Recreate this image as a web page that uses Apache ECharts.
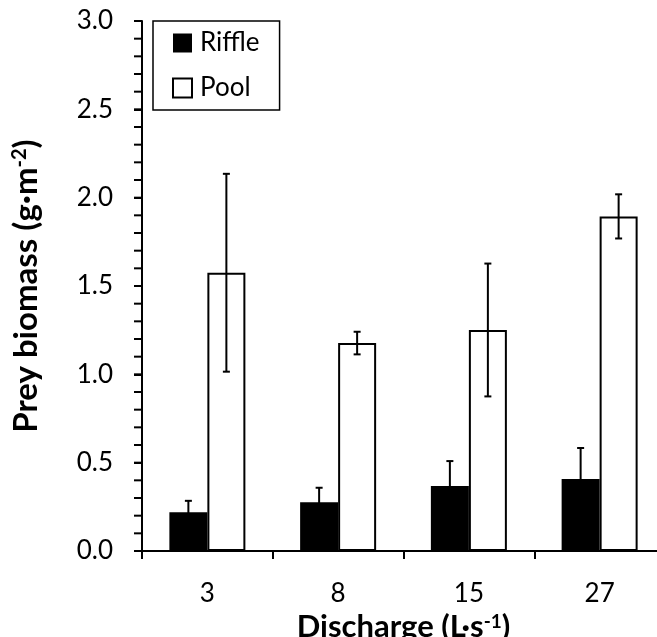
<!DOCTYPE html>
<html>
<head>
<meta charset="utf-8">
<script src="https://cdn.jsdelivr.net/npm/echarts@6/dist/echarts.min.js"></script>
<style>
  html, body { margin: 0; padding: 0; background: #fff; }
  #chart { width: 657px; height: 637px; }
</style>
</head>
<body>
<div id="chart"></div>
<script>
// discharge classes (L/s)
var discharge = ['3', '8', '15', '27'];

// prey biomass, g/m2
var riffleMean = [0.22, 0.276, 0.368, 0.408];
var riffleErr = [0.064, 0.082, 0.141, 0.175];
var poolMean = [1.575, 1.177, 1.251, 1.894];
var poolErr = [0.56, 0.064, 0.376, 0.125];

// small ticks on the y axis
var yTickValues = [0, 0.1, 0.2, 0.3, 0.4, 0.5, 0.6, 0.7, 0.8, 0.9,
    1.0, 1.1, 1.2, 1.3, 1.4, 1.5, 1.6, 1.7, 1.8, 1.9,
    2.0, 2.1, 2.2, 2.3, 2.4, 2.5, 2.6, 2.7, 2.8, 2.9, 3.0];

var font = 'Lato';

function errData(mean, err) {
    var out = [];
    for (var i = 0; i < mean.length; i++) {
        out.push([i, mean[i], err[i]]);
    }
    return out;
}

// draws a whisker shifted sideways onto its bar
function errRenderer(shift) {
    return function (params, api) {
        var i = api.value(0);
        var m = api.value(1);
        var e = api.value(2);
        var hi = api.coord([i, m + e]);
        var lo = api.coord([i, m - e]);
        var x = hi[0] + shift;
        var cap = 3.5;
        var st = { stroke: '#000', lineWidth: 2 };
        return {
            type: 'group',
            children: [
                { type: 'line', shape: { x1: x, y1: hi[1], x2: x, y2: lo[1] }, style: st },
                { type: 'line', shape: { x1: x - cap, y1: hi[1], x2: x + cap, y2: hi[1] }, style: st },
                { type: 'line', shape: { x1: x - cap, y1: lo[1], x2: x + cap, y2: lo[1] }, style: st }
            ]
        };
    };
}

var chart = echarts.init(document.getElementById('chart'));

var option = {
    backgroundColor: '#fff',
    animation: false,
    grid: {
        left: 142,
        top: 21,
        right: -8,
        bottom: 86,
        containLabel: false,
        outerBoundsMode: 'none'
    },
    legend: {
        orient: 'vertical',
        left: 153,
        top: 21,
        padding: [9, 20, 9, 19],
        itemGap: 19,
        itemWidth: 19,
        itemHeight: 19,
        borderColor: '#000',
        borderWidth: 1.5,
        textStyle: { fontFamily: font, fontSize: 26, color: '#000', padding: [0, 0, 0, 3] },
        data: [
            { name: 'Riffle', icon: 'rect', itemStyle: { color: '#000', borderWidth: 0 } },
            { name: 'Pool', icon: 'rect', itemStyle: { color: '#fff', borderColor: '#000', borderWidth: 2 } }
        ]
    },
    xAxis: {
        type: 'category',
        data: discharge,
        name: '{b|Discharge (L·s}{sup|-1}{b|)}',
        nameLocation: 'middle',
        nameGap: 48,
        nameTextStyle: {
            rich: {
                b: { fontFamily: font, fontSize: 31, fontWeight: 'bold', color: '#000' },
                sup: { fontFamily: font, fontSize: 19, fontWeight: 'bold', color: '#000', verticalAlign: 'top' }
            }
        },
        axisLine: { lineStyle: { color: '#000', width: 2 } },
        axisTick: { show: true, length: 8, lineStyle: { color: '#000', width: 2 } },
        axisLabel: { fontFamily: font, fontSize: 26, color: '#000', margin: 30 },
        splitLine: { show: false }
    },
    yAxis: {
        type: 'value',
        min: 0,
        max: 3,
        interval: 0.5,
        name: '{b|Prey biomass (g·m}{sup|-2}{b|)}',
        nameLocation: 'middle',
        nameRotate: 90,
        nameGap: 99,
        nameTextStyle: {
            rich: {
                b: { fontFamily: font, fontSize: 33, fontWeight: 'bold', color: '#000' },
                sup: { fontFamily: font, fontSize: 20, fontWeight: 'bold', color: '#000', verticalAlign: 'top' }
            }
        },
        axisLine: { show: true, lineStyle: { color: '#000', width: 2 } },
        axisTick: { show: true, length: 8, lineStyle: { color: '#000', width: 2 } },
        axisLabel: {
            fontFamily: font, fontSize: 26, color: '#000', margin: 29,
            formatter: function (v) { return v.toFixed(1); }
        },
        splitLine: { show: false }
    },
    series: [
        {
            name: 'Riffle',
            type: 'bar',
            data: riffleMean,
            barWidth: 38,
            barGap: '0%',
            itemStyle: { color: '#000' }
        },
        {
            name: 'Pool',
            type: 'bar',
            data: poolMean,
            barWidth: 38,
            barGap: '0%',
            itemStyle: { color: '#fff', borderColor: '#000', borderWidth: 2 }
        },
        {
            type: 'custom',
            data: errData(riffleMean, riffleErr),
            renderItem: errRenderer(-19),
            encode: { x: 0, y: 1 },
            z: 5
        },
        {
            type: 'custom',
            data: errData(poolMean, poolErr),
            renderItem: errRenderer(19),
            encode: { x: 0, y: 1 },
            z: 5
        }
    ]
};

chart.setOption(option);

// y ticks every 0.1, placed through the axis scale
var gridRect = chart.getModel().getComponent('grid').coordinateSystem.getRect();
var tickLines = yTickValues.map(function (v) {
    var y = chart.convertToPixel({ yAxisIndex: 0 }, v);
    return {
        type: 'line',
        silent: true,
        z: 100,
        shape: { x1: gridRect.x - 8, y1: y, x2: gridRect.x, y2: y },
        style: { stroke: '#000', lineWidth: 2 }
    };
});
chart.setOption({ graphic: { elements: tickLines } });
</script>
</body>
</html>
